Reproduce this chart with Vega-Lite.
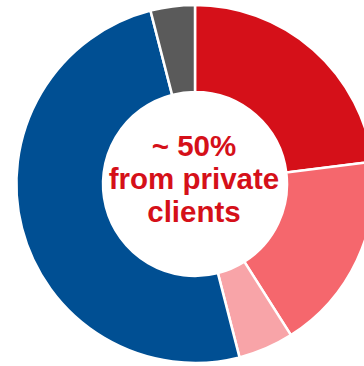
{
  "$schema": "https://vega.github.io/schema/vega-lite/v6.json",
  "width": 390,
  "height": 368,
  "padding": 0,
  "autosize": {"type": "none"},
  "background": "white",
  "view": {"stroke": null},
  "layer": [
    {
      "data": {
        "values": [
          {"segment": "A", "share": 23, "rank": 1},
          {"segment": "B", "share": 18, "rank": 2},
          {"segment": "C", "share": 5, "rank": 3},
          {"segment": "D", "share": 50, "rank": 4},
          {"segment": "E", "share": 4, "rank": 5}
        ]
      },
      "mark": {"type": "arc", "outerRadius": 179, "innerRadius": 92, "stroke": "white", "strokeWidth": 2.5},
      "encoding": {
        "theta": {"field": "share", "type": "quantitative", "stack": true},
        "order": {"field": "rank", "type": "quantitative"},
        "color": {
          "field": "segment",
          "type": "nominal",
          "legend": null,
          "scale": {
            "domain": ["A", "B", "C", "D", "E"],
            "range": ["#d51019", "#f5676d", "#f8a4a8", "#004f93", "#5a5a5a"]
          }
        }
      }
    },
    {
      "data": {"values": [{"label": "~ 50%\nfrom private\nclients"}]},
      "mark": {
        "type": "text",
        "lineBreak": "\n",
        "font": "Liberation Sans",
        "fontWeight": "bold",
        "fontSize": 29.5,
        "lineHeight": 33,
        "align": "center",
        "baseline": "middle",
        "color": "#d51019",
        "dx": -1,
        "dy": -37
      },
      "encoding": {"text": {"field": "label"}}
    }
  ]
}
